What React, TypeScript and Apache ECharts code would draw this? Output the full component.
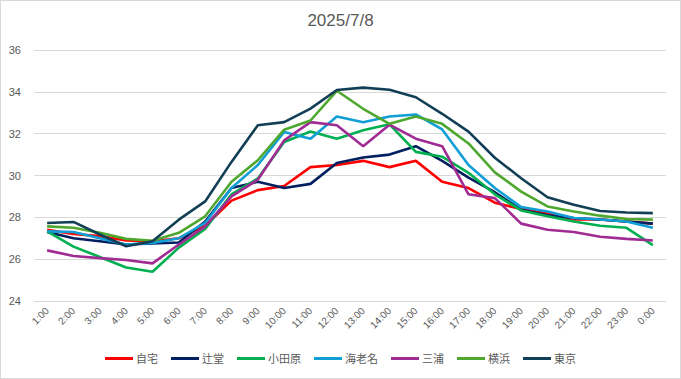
import React, { useEffect, useRef } from "react";
import * as echarts from "echarts";

const categories = ["1:00","2:00","3:00","4:00","5:00","6:00","7:00","8:00","9:00","10:00","11:00","12:00","13:00","14:00","15:00","16:00","17:00","18:00","19:00","20:00","21:00","22:00","23:00","0:00"];

const seriesNames = ["自宅", "辻堂", "小田原", "海老名", "三浦", "横浜", "東京"];
const seriesColors = ["#FF0000", "#002060", "#00B050", "#0F9ED5", "#A02B93", "#4EA72E", "#123F55"];

const jitaku = [27.4, 27.2, 27.1, 26.9, 26.86, 27.0, 27.6, 28.8, 29.3, 29.5, 30.4, 30.5, 30.7, 30.4, 30.7, 29.7, 29.4, 28.7, 28.4, 28.2, 27.9, 27.9, 27.8, 27.7];
const tsujido = [27.3, 27.0, 26.86, 26.7, 26.75, 26.8, 27.8, 29.4, 29.7, 29.4, 29.6, 30.6, 30.86, 31.0, 31.4, 30.7, 29.9, 29.2, 28.36, 28.1, 27.97, 27.9, 27.8, 27.7];
const odawara = [27.33, 26.6, 26.1, 25.6, 25.4, 26.55, 27.45, 29.1, 29.86, 31.6, 32.1, 31.76, 32.16, 32.45, 31.13, 30.9, 30.13, 29.1, 28.33, 28.05, 27.8, 27.6, 27.5, 26.67];
const ebina = [27.33, 27.3, 27.0, 26.7, 26.78, 27.0, 27.73, 29.4, 30.5, 32.08, 31.76, 32.82, 32.55, 32.82, 32.92, 32.2, 30.5, 29.4, 28.49, 28.28, 27.97, 27.9, 27.8, 27.5];
const miura = [26.42, 26.15, 26.05, 25.96, 25.8, 26.7, 27.57, 29.0, 29.8, 31.68, 32.55, 32.4, 31.4, 32.43, 31.76, 31.4, 29.1, 28.92, 27.7, 27.41, 27.3, 27.07, 26.97, 26.89];
const yokohama = [27.57, 27.5, 27.26, 26.97, 26.88, 27.26, 28.05, 29.7, 30.73, 32.19, 32.63, 34.05, 33.19, 32.47, 32.82, 32.47, 31.53, 30.15, 29.23, 28.52, 28.28, 28.08, 27.92, 27.89];
const tokyo = [27.73, 27.78, 27.18, 26.62, 26.86, 27.89, 28.76, 30.65, 32.4, 32.55, 33.2, 34.09, 34.2, 34.1, 33.74, 32.95, 32.1, 30.85, 29.87, 28.96, 28.6, 28.3, 28.23, 28.2];

const seriesData = [jitaku, tsujido, odawara, ebina, miura, yokohama, tokyo];

const yMin = 24;
const yMax = 36;
const yInterval = 2;

const FONT = "'Liberation Sans', Arial, 'Noto Sans CJK JP', sans-serif";
const TEXT = "#595959";

export default function App() {
  const ref = useRef<HTMLDivElement>(null);
  useEffect(() => {
    if (!ref.current) return;
    const chart = echarts.init(ref.current, undefined, { renderer: "svg" });
    chart.setOption({
      animation: false,
      backgroundColor: "#ffffff",
      textStyle: { fontFamily: FONT },
      title: {
        text: "2025/7/8",
        left: "center",
        top: 6,
        textStyle: { fontSize: 17, fontWeight: "normal", color: TEXT, fontFamily: FONT },
      },
      legend: {
        bottom: 9,
        left: "center",
        icon: "rect",
        itemWidth: 28,
        itemHeight: 3,
        itemGap: 13,
        textStyle: { fontSize: 11, color: TEXT, fontFamily: FONT, padding: [0, 0, 0, -2] },
        data: seriesNames,
      },
      grid: { left: 33, right: 14, top: 49, bottom: 77, containLabel: false },
      xAxis: {
        type: "category",
        data: categories,
        boundaryGap: true,
        axisLine: { lineStyle: { color: "#d9d9d9" } },
        axisTick: { show: false },
        axisLabel: { rotate: 45, color: TEXT, fontSize: 10, interval: 0, margin: 8, fontFamily: FONT },
      },
      yAxis: {
        type: "value",
        min: yMin,
        max: yMax,
        interval: yInterval,
        axisLine: { show: false },
        axisTick: { show: false },
        axisLabel: { color: TEXT, fontSize: 11, margin: 13, fontFamily: FONT },
        splitLine: { lineStyle: { color: "#d9d9d9" } },
      },
      series: seriesNames.map((name, i) => ({
        name,
        type: "line",
        data: seriesData[i],
        symbol: "none",
        color: seriesColors[i],
        lineStyle: { width: 2.6, color: seriesColors[i] },
      })),
    });
    return () => chart.dispose();
  }, []);
  return (
    <div
      ref={ref}
      style={{
        position: "absolute",
        left: 0,
        top: 0,
        width: 681,
        height: 379,
        boxSizing: "border-box",
        border: "1px solid #d9d9d9",
      }}
    />
  );
}
